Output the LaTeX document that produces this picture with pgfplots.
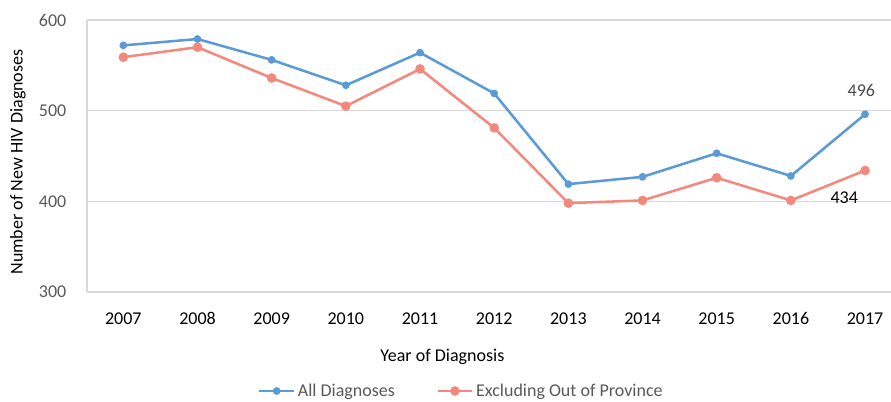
\documentclass[border=0pt]{standalone}
\usepackage{pgfplots}
\pgfplotsset{compat=1.18}
\usepackage{fontspec}
\setmainfont{Carlito}
\definecolor{cblue}{HTML}{5B9BD5}
\definecolor{csalmon}{HTML}{F4887C}
\definecolor{tgray}{HTML}{595959}
\definecolor{ggray}{HTML}{D9D9D9}
\newcommand{\fs}{\fontsize{13.5}{15}\selectfont}
\begin{document}
\begin{tikzpicture}[x=0.75pt,y=0.75pt]
\begin{axis}[
  name=ax, at={(0,0)}, anchor=south west,
  scale only axis,
  width=603pt, height=204pt,
  xmin=-0.49, xmax=10.35,
  ymin=300, ymax=600,
  ytick={300,400,500,600},
  xtick={0,...,10},
  xticklabels={2007,2008,2009,2010,2011,2012,2013,2014,2015,2016,2017},
  axis x line=bottom, axis y line=left,
  axis line style={ggray, line width=0.8pt, -},
  ymajorgrids, grid style={ggray, line width=0.8pt},
  major tick length=0pt,
  tick label style={font=\fs},
  yticklabel style={tgray, xshift=-12pt},
  xticklabel style={black, yshift=-12pt, text height=9pt, text depth=0pt},
  /pgf/number format/assume math mode=true,
  xlabel={Year of Diagnosis},
  ylabel={Number of New HIV Diagnoses},
  label style={font=\fs, black},
  xlabel style={at={(axis description cs:0.442,-0.237)}, anchor=center},
  ylabel style={at={(axis description cs:-0.086,0.478)}, anchor=center},
  legend style={at={(0.466,-0.364)}, anchor=center, draw=none, legend columns=2,
    font=\fs, text=tgray,
    /tikz/every even column/.append style={column sep=29pt}},
  legend image code/.code={\draw[#1, mark repeat=2, mark phase=2] plot coordinates {(0pt,0pt) (13pt,0pt) (26pt,0pt)};},
  clip=false,
]
\addplot[cblue, line width=1.9pt, mark=*, mark size=1.9pt, mark options={solid}] coordinates {
(0,572) (1,579) (2,556) (3,528) (4,564) (5,519) (6,419) (7,427) (8,453) (9,428) (10,496)};
\addlegendentry{All Diagnoses}
\addplot[csalmon, line width=1.9pt, mark=*, mark size=2.6pt, mark options={solid}] coordinates {
(0,559) (1,570) (2,536) (3,505) (4,546) (5,481) (6,398) (7,401) (8,426) (9,401) (10,434)};
\addlegendentry{Excluding Out of Province}
\node[font=\fs, text=tgray!85!black] at (axis cs:9.95,522) {496};
\node[font=\fs, text=black] at (axis cs:9.72,404) {434};
\end{axis}
\pgfresetboundingbox
\path[use as bounding box] (-87,-110) rectangle (804,292);
\end{tikzpicture}
\end{document}
